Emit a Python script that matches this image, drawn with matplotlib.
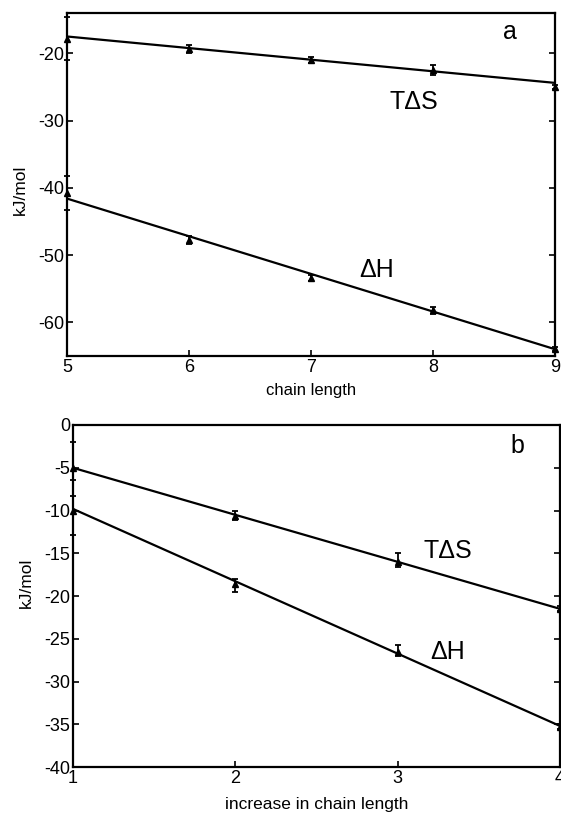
import matplotlib
matplotlib.use("Agg")
import matplotlib.pyplot as plt
import numpy as np

plt.rcParams['font.family'] = ['Liberation Sans', 'DejaVu Sans']
plt.rcParams['axes.unicode_minus'] = False

# panel a: chain length
chain = [5, 6, 7, 8, 9]
tds_a = [-17.8, -19.3, -21.0, -22.5, -25.0]
tds_a_err = [3.2, 0.6, 0.4, 0.7, 0.3]
dh_a = [-40.8, -47.7, -53.4, -58.2, -64.0]
dh_a_err = [2.5, 0.6, 0.5, 0.5, 0.3]
tds_a_fit = [-17.5, -24.4]
dh_a_fit = [-41.6, -64.0]

# panel b: increase in chain length
incr = [1, 2, 3, 4]
tds_b = [-5.0, -10.6, -16.0, -21.5]
tds_b_lo = [1.4, 0.5, 0.6, 0.3]
tds_b_hi = [3.0, 0.6, 1.0, 0.3]
dh_b = [-10.0, -18.6, -26.5, -35.3]
dh_b_lo = [2.9, 0.9, 0.5, 0.3]
dh_b_hi = [1.7, 0.6, 0.8, 0.3]
tds_b_fit = [-5.0, -21.5]
dh_b_fit = [-9.8, -35.2]

fig = plt.figure(figsize=(5.61, 8.14), dpi=100)
ax1 = fig.add_axes([0.1194, 0.5627, 0.870, 0.4214])
ax2 = fig.add_axes([0.1296, 0.0577, 0.8686, 0.4202])


def estilo(ax):
    for s in ax.spines.values():
        s.set_linewidth(1.6)
    ax.tick_params(direction='in', top=False, right=True, length=4, width=1.2,
                   labelsize=13, pad=2)


def pontos(ax, x, y, err):
    ax.errorbar(x, y, yerr=err, fmt='^', color='black', ms=4, capsize=2.5,
                elinewidth=1.3, capthick=1.3, clip_on=False, zorder=3)


# ---- a
ax1.plot([chain[0], chain[-1]], tds_a_fit, color='black', lw=1.6)
ax1.plot([chain[0], chain[-1]], dh_a_fit, color='black', lw=1.6)
pontos(ax1, chain, tds_a, tds_a_err)
pontos(ax1, chain, dh_a, dh_a_err)
ax1.set_xlim(5, 9)
ax1.set_ylim(-65, -14)
ax1.set_xticks(chain)
ax1.set_yticks([-60, -50, -40, -30, -20])
ax1.set_xlabel('chain length', fontsize=12, labelpad=5)
ax1.set_ylabel('kJ/mol', fontsize=12.5)
ax1.yaxis.set_label_coords(-0.08, 0.484)
ax1.text(8.63, -16.8, 'a', fontsize=18, ha='center', va='center')
ax1.text(7.84, -27.3, 'T\u0394S', fontsize=18, ha='center', va='center')
ax1.text(7.54, -52.2, '\u0394H', fontsize=18, ha='center', va='center')
estilo(ax1)

# ---- b
ax2.plot([incr[0], incr[-1]], tds_b_fit, color='black', lw=1.6)
ax2.plot([incr[0], incr[-1]], dh_b_fit, color='black', lw=1.6)
pontos(ax2, incr, tds_b, [tds_b_lo, tds_b_hi])
pontos(ax2, incr, dh_b, [dh_b_lo, dh_b_hi])
ax2.set_xlim(1, 4)
ax2.set_ylim(-40, 0)
ax2.set_xticks(incr)
ax2.set_yticks(np.arange(-40, 1, 5))
ax2.set_xlabel('increase in chain length', fontsize=12.5, labelpad=7)
ax2.set_ylabel('kJ/mol', fontsize=12.5)
ax2.yaxis.set_label_coords(-0.079, 0.54)
ax2.text(3.74, -2.5, 'b', fontsize=18, ha='center', va='center')
ax2.text(3.31, -14.7, 'T\u0394S', fontsize=18, ha='center', va='center')
ax2.text(3.31, -26.5, '\u0394H', fontsize=18, ha='center', va='center')
estilo(ax2)

fig.savefig('out.png', dpi=100)
